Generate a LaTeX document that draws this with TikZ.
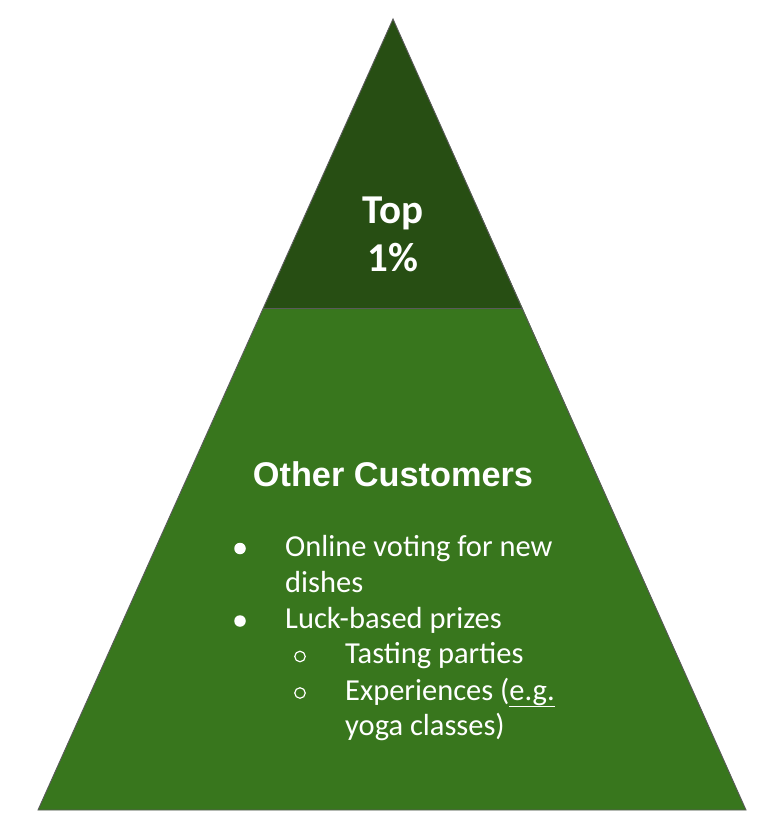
\documentclass[tikz,border=0pt]{standalone}
\usepackage{fontspec}
\setmainfont{Carlito}
\newfontfamily\arialb[BoldFont={Liberation Sans Bold}]{Liberation Sans}
\definecolor{topgreen}{HTML}{274E13}
\definecolor{basegreen}{HTML}{38761D}
\definecolor{edgegray}{HTML}{5A5A5A}
\begin{document}
\begin{tikzpicture}[x=1pt,y=-1pt,
  every node/.style={text=white,inner sep=0pt},
  level/.style={draw=edgegray,line width=0.9pt,line join=miter},
  item/.style={anchor=base west,font=\fontsize{30.5}{36}\selectfont},
  dotbullet/.style={circle,fill=white,minimum size=11.5pt,inner sep=0pt},
  ringbullet/.style={circle,draw=white,line width=1.2pt,minimum size=10.5pt,inner sep=0pt}]
\useasboundingbox (0,0) rectangle (770,834);
\coordinate (apex) at (393,19);
\coordinate (bl) at (38,810);
\coordinate (br) at (746,810);
\coordinate (ml) at (263.5,308);
\coordinate (mr) at (522.5,308);
\fill[basegreen] (ml) -- (mr) -- (br) -- (bl) -- cycle;
\fill[topgreen] (apex) -- (mr) -- (ml) -- cycle;
\draw[level] (apex) -- (br) -- (bl) -- cycle;
\draw[level] (ml) -- (mr);
\node[anchor=base,font=\fontsize{41}{47}\selectfont\bfseries] (top1) at (393,224) {Top};
\node[anchor=base,font=\fontsize{41}{47}\selectfont\bfseries] (top2) at (393,271) {1\%};
\node[anchor=base,font=\arialb\fontsize{34.3}{40}\selectfont\bfseries] (other) at (393,486) {Other Customers};
\node[dotbullet] (b1) at (240,548.5) {};
\node[item] (t1) at (285,556) {Online voting for new};
\node[item] (t1b) at (285,592) {dishes};
\node[dotbullet] (b2) at (240,621) {};
\node[item] (t2) at (285,628) {Luck-based prizes};
\node[ringbullet] (c1) at (300,656.5) {};
\node[item] (t3) at (345,663) {Tasting parties};
\node[ringbullet] (c2) at (300,693) {};
\node[item] (t4) at (345,700) {Experiences (\underline{e.g.}};
\node[item] (t4b) at (345,735) {yoga classes)};
\end{tikzpicture}
\end{document}
